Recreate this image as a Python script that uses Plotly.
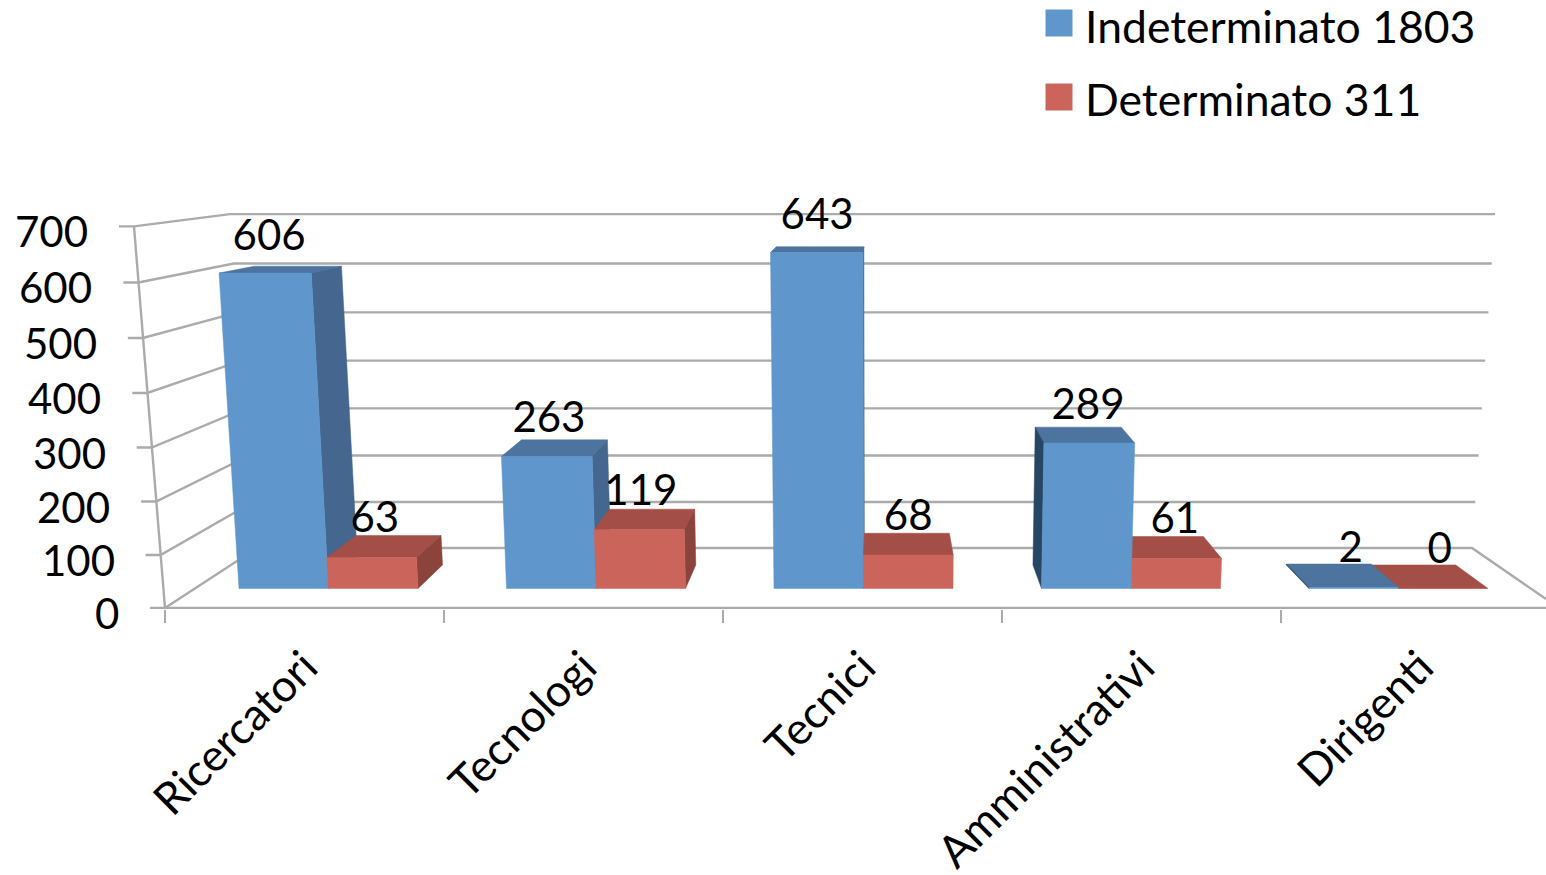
import plotly.graph_objects as go

# ---- data ----
categories = ["Ricercatori", "Tecnologi", "Tecnici", "Amministrativi", "Dirigenti"]
indeterminato = [606, 263, 643, 289, 2]
determinato = [63, 119, 68, 61, 0]
value_ticks = [0, 100, 200, 300, 400, 500, 600, 700]
series_names = ["Indeterminato 1803", "Determinato 311"]

# ---- styles ----
FONT = "Lato"
FS_TEXT = 44.5
FS_NUM = 42
GRID = "#ABABAB"
BLUE = dict(front="#5F97CD", top="#4D739F", right="#44668F", left="#274664")
RED = dict(front="#CB655B", top="#A34F47", right="#8B443C", left="#8B443C")

# ---- perspective model (screen pixels) ----
W, H = 1546, 875
PLOT_L, FLOOR_Y, PLOT_BOTTOM = 165, 608, 609
CAT_PX, BASE_Y, PX_PER_VAL = 279.0, 588.5, 0.489
VPX, VPY, DEPTH = 880.0, 144.0, 0.053


def ax_x(px):
    return (px - PLOT_L) / CAT_PX


def ax_y(py):
    return (BASE_Y - py) / PX_PER_VAL


def bar_pt(xb, v, d=0.0):
    """Screen point of a bar corner: base x, value, depth (0 front, 1 back)."""
    x = xb + (xb - VPX) * 5.14e-5 * v
    y = BASE_Y - PX_PER_VAL * v / (1 - 1e-4 * v)
    return x + d * DEPTH * (VPX - x), y + d * DEPTH * (VPY - y)


def wall_front(v):
    return 165 - 0.0443 * v, 608 - 0.5276 * v / (1 - 4.6e-5 * v)


def wall_back_left(v):
    return 257 - 0.0386 * v, 548 - 0.4573 * v / (1 - 5.9e-5 * v)


def wall_back_right(v):
    return 1472 + 0.0329 * v, 548 - 0.4573 * v / (1 - 5.9e-5 * v)


fig = go.Figure()


def line(points, color=GRID, width=2.4):
    fig.add_trace(go.Scatter(
        x=[ax_x(p[0]) for p in points], y=[ax_y(p[1]) for p in points],
        mode="lines", line=dict(color=color, width=width),
        showlegend=False, hoverinfo="skip"))


def face(points, color):
    pts = points + [points[0]]
    fig.add_trace(go.Scatter(
        x=[ax_x(p[0]) for p in pts], y=[ax_y(p[1]) for p in pts],
        mode="lines", fill="toself", fillcolor=color,
        line=dict(color=color, width=0.5),
        showlegend=False, hoverinfo="skip"))


# ---- walls and floor ----
for v in value_ticks:
    fx, fy = wall_front(v)
    pts = [(fx - 15, fy), (fx, fy), wall_back_left(v), wall_back_right(v)]
    if v == 0:
        pts.append((W, 599))
    line(pts)
line([wall_front(0), wall_front(value_ticks[-1])])
line([wall_front(0), (W, FLOOR_Y)])


# ---- bars ----
def bar(xl, xr, v, pal):
    face([bar_pt(xl, v), bar_pt(xl, v, 1), bar_pt(xr, v, 1), bar_pt(xr, v)], pal["top"])
    if bar_pt(xr, v)[0] < VPX:
        face([bar_pt(xr, 0), bar_pt(xr, v), bar_pt(xr, v, 1), bar_pt(xr, 0, 1)], pal["right"])
    if bar_pt(xl, v)[0] > VPX:
        face([bar_pt(xl, 0), bar_pt(xl, v), bar_pt(xl, v, 1), bar_pt(xl, 0, 1)], pal["left"])
    face([bar_pt(xl, 0), bar_pt(xl, v), bar_pt(xr, v), bar_pt(xr, 0)], pal["front"])


SLOT, START, BAR_W = 267.5, 239.0, 89.5
label_x, label_y, label_text = [], [], []
for i, cat in enumerate(categories):
    x0 = START + SLOT * i
    x1, x2 = x0 + BAR_W, x0 + 2 * BAR_W
    blue = (x0, x1, indeterminato[i], BLUE)
    red = (x1, x2, determinato[i], RED)
    for b in ([blue, red] if x1 < VPX else [red, blue]):
        bar(*b)
    for xa, xb, v in ((x0, x1, indeterminato[i]), (x1, x2, determinato[i])):
        px, py = bar_pt((xa + xb) / 2, v, 0.12)
        label_x.append(ax_x(px))
        label_y.append(ax_y(py - 33))
        label_text.append(str(v))

# ---- value-axis labels ----
value_labels = [
    dict(x=(wall_front(v)[0] - 44) / W, y=(PLOT_BOTTOM - wall_front(v)[1] - 5) / PLOT_BOTTOM,
         xref="paper", yref="paper", text=str(v), showarrow=False,
         xanchor="right", yanchor="middle",
         font=dict(family=FONT, size=FS_NUM, color="black"))
    for v in value_ticks
]

# ---- data labels (on the label axis, which shares the range) ----
fig.add_trace(go.Scatter(
    x=label_x, y=label_y, text=label_text, xaxis="x2",
    mode="text", textposition="middle center",
    textfont=dict(family=FONT, size=FS_NUM, color="black"),
    cliponaxis=False, showlegend=False, hoverinfo="skip"))

# ---- legend: real entries, with the large square key drawn beneath each ----
for name, pal, key_y in zip(series_names, (BLUE, RED), (23, 97)):
    fig.add_trace(go.Scatter(
        x=[ax_x(1059)], y=[ax_y(key_y)], mode="markers", showlegend=False,
        hoverinfo="skip",
        marker=dict(symbol="square", size=27, color=pal["front"])))
    fig.add_trace(go.Scatter(
        x=[None], y=[None], name=name, legendgroup=name, mode="markers",
        marker=dict(symbol="square", size=10, color=pal["front"])))

x_range = [ax_x(0), ax_x(W)]
tick_pos = [float(i) for i in range(len(categories))]
fig.update_layout(
    width=W, height=H,
    margin=dict(l=0, r=0, t=0, b=H - PLOT_BOTTOM, pad=0, autoexpand=False),
    paper_bgcolor="white", plot_bgcolor="white",
    font=dict(family=FONT, size=FS_TEXT, color="black"),
    showlegend=True,
    annotations=value_labels,
    legend=dict(
        x=1045 / W, y=1.016, xanchor="left", yanchor="top",
        tracegroupgap=12.5, itemsizing="trace", bgcolor="rgba(0,0,0,0)",
        font=dict(family=FONT, size=FS_TEXT, color="black")),
    xaxis=dict(
        range=x_range, showgrid=False, zeroline=False, showline=False,
        ticks="outside", ticklen=13, tickwidth=2,
        tickcolor=GRID, tickvals=tick_pos, showticklabels=False, fixedrange=True),
    xaxis2=dict(
        range=x_range, overlaying="x", anchor="y", side="bottom", showgrid=False,
        zeroline=False, showline=False, ticks="",
        tickvals=[p + 0.5 for p in tick_pos], ticktext=categories, tickangle=-45,
        ticklabelstandoff=22,
        tickfont=dict(family=FONT, size=FS_TEXT, color="black"), fixedrange=True),
    yaxis=dict(
        range=[ax_y(PLOT_BOTTOM), ax_y(0)], visible=False, showgrid=False,
        zeroline=False, fixedrange=True),
)
fig.write_html(
    "out.html",
    config={"displayModeBar": False},
    post_script="document.body.style.margin='0';document.body.style.overflow='hidden';",
)
